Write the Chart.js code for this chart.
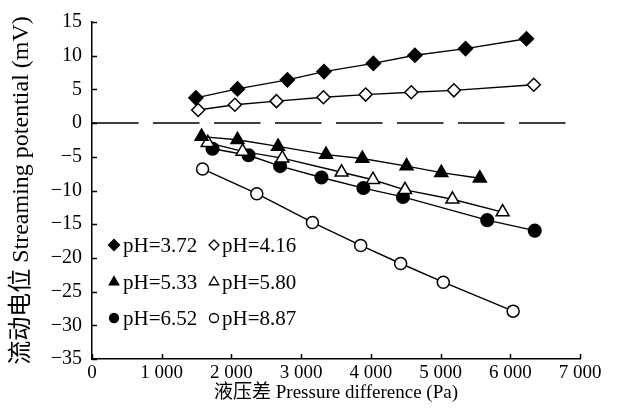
<!DOCTYPE html>
<html>
<head>
<meta charset="utf-8">
<script src="https://cdn.jsdelivr.net/npm/chart.js@4/dist/chart.umd.min.js"></script>
<style>
  html, body { margin: 0; padding: 0; background: #fff; }
  #wrap { width: 623px; height: 419px; }
</style>
</head>
<body>
<div id="wrap"><canvas id="myChart" width="623" height="419"></canvas></div>
<script>
// readings from the figure: pressure difference (Pa) vs streaming potential (mV)
const labels = ["pH=3.72", "pH=4.16", "pH=5.33", "pH=5.80", "pH=6.52", "pH=8.87"];

const x372 = [1490, 2087, 2803, 3328, 4036, 4632, 5358, 6232];
const y372 = [3.75, 5.07, 6.42, 7.64, 8.86, 10.07, 11.05, 12.51];

const x416 = [1523, 2049, 2646, 3320, 3926, 4580, 5191, 6337];
const y416 = [1.94, 2.73, 3.26, 3.84, 4.23, 4.57, 4.86, 5.69];

const x533 = [1572, 2087, 2669, 3357, 3878, 4513, 5010, 5563];
const y533 = [-2.0, -2.48, -3.46, -4.67, -5.26, -6.38, -7.35, -8.18];

const x580 = [1660, 2160, 2730, 3580, 4030, 4490, 5170, 5890];
const y580 = [-2.9, -4.2, -5.2, -7.3, -8.4, -9.9, -11.3, -13.2];

const x652 = [1729, 2245, 2698, 3291, 3893, 4460, 5669, 6351];
const y652 = [-3.8, -4.77, -6.38, -8.07, -9.64, -10.95, -14.4, -15.96];

const x887 = [1586, 2364, 3162, 3854, 4427, 5039, 6041];
const y887 = [-6.8, -10.47, -14.74, -18.15, -20.83, -23.6, -27.9];

const xTicks = [0, 1000, 2000, 3000, 4000, 5000, 6000, 7000];
const yTicks = [15, 10, 5, 0, -5, -10, -15, -20, -25, -30, -35];

const xTitle = "液压差 Pressure difference (Pa)";
const yTitle = "流动电位 Streaming potential (mV)";

const FONT = "'Liberation Serif', 'Noto Sans CJK SC', serif";

let pts = (xs, ys) => xs.map((x, i) => ({ x: x, y: ys[i] }));

// marker look for each series, same order as labels
const styles = [
  { pointStyle: "rectRot", radius: 7, fill: "#000" },
  { pointStyle: "rectRot", radius: 6.5, fill: "#fff" },
  { pointStyle: "triangle", radius: 7.5, fill: "#000" },
  { pointStyle: "triangle", radius: 7.5, fill: "#fff" },
  { pointStyle: "circle", radius: 6.3, fill: "#000" },
  { pointStyle: "circle", radius: 6, fill: "#fff" },
];

const seriesData = [
  pts(x372, y372), pts(x416, y416), pts(x533, y533),
  pts(x580, y580), pts(x652, y652), pts(x887, y887),
];

let datasets = seriesData.map((d, i) => ({
  label: labels[i],
  data: d,
  showLine: true,
  borderColor: "#000",
  borderWidth: 1.4,
  pointStyle: styles[i].pointStyle,
  pointRadius: styles[i].radius,
  pointHoverRadius: styles[i].radius,
  pointBackgroundColor: styles[i].fill,
  pointBorderColor: "#000",
  pointBorderWidth: 1.5,
}));

// dashed zero line
datasets.push({
  label: "zero",
  data: [{ x: 0, y: 0 }, { x: 7000, y: 0 }],
  showLine: true,
  borderColor: "#000",
  borderWidth: 1.5,
  borderDash: [46.5, 14.5],
  pointRadius: 0,
});

// small legend inside the plot, 3 rows x 2 columns
const legendPos = [
  { mx: 114, tx: 123, y: 245 }, { mx: 214, tx: 222, y: 245 },
  { mx: 114, tx: 123, y: 282 }, { mx: 214, tx: 222, y: 282 },
  { mx: 114, tx: 123, y: 318 }, { mx: 214, tx: 222, y: 318 },
];
const legendRadius = [5.5, 5, 5.5, 5.5, 4.5, 4.5];

let insideLegend = {
  id: "insideLegend",
  afterDraw: (chart) => {
    let ctx = chart.ctx;
    ctx.save();
    for (let i = 0; i < labels.length; i++) {
      let p = legendPos[i];
      ctx.fillStyle = styles[i].fill;
      ctx.strokeStyle = "#000";
      ctx.lineWidth = 1.3;
      Chart.helpers.drawPoint(ctx, {
        pointStyle: styles[i].pointStyle,
        radius: legendRadius[i],
        borderWidth: 1.3,
        rotation: 0,
      }, p.mx, p.y);
      ctx.fillStyle = "#000";
      ctx.font = "21px " + FONT;
      ctx.textBaseline = "middle";
      ctx.textAlign = "left";
      ctx.fillText(labels[i], p.tx, p.y + 1);
    }
    ctx.restore();
  },
};

// tick marks pointing into the plot
let innerTicks = {
  id: "innerTicks",
  afterDraw: (chart) => {
    let ctx = chart.ctx;
    let xs = chart.scales.x;
    let ys = chart.scales.y;
    let area = chart.chartArea;
    ctx.save();
    ctx.strokeStyle = "#000";
    ctx.lineWidth = 1.5;
    ctx.beginPath();
    for (let v of xTicks) {
      let px = Math.round(xs.getPixelForValue(v)) + 0.5;
      ctx.moveTo(px, area.bottom);
      ctx.lineTo(px, area.bottom - 5);
    }
    for (let v of yTicks) {
      let py = Math.round(ys.getPixelForValue(v)) + 0.5;
      ctx.moveTo(area.left, py);
      ctx.lineTo(area.left + 5, py);
    }
    ctx.stroke();
    ctx.restore();
  },
};

const config = {
  type: "scatter",
  data: { datasets: datasets },
  plugins: [innerTicks, insideLegend],
  options: {
    responsive: false,
    animation: false,
    events: [],
    layout: { padding: { left: 0, right: 43, top: 16, bottom: 0 } },
    plugins: {
      legend: { display: false },
      tooltip: { enabled: false },
    },
    scales: {
      x: {
        type: "linear",
        min: 0,
        max: 7000,
        afterFit: (scale) => { scale.height = 60; },
        afterBuildTicks: (scale) => { scale.ticks = xTicks.map((v) => ({ value: v })); },
        grid: { display: false, drawTicks: false },
        border: { display: true, color: "#000", width: 1.5 },
        ticks: {
          color: "#000",
          font: { family: FONT, size: 19 },
          padding: 3,
          maxRotation: 0,
          callback: (v) => (v === 0 ? "0" : (v / 1000) + " 000"),
        },
        title: {
          display: true,
          text: xTitle,
          color: "#000",
          font: { family: FONT, size: 19 },
          padding: { top: 0, bottom: 15 },
        },
      },
      y: {
        type: "linear",
        min: -35,
        max: 15,
        afterFit: (scale) => { scale.width = 92; },
        afterBuildTicks: (scale) => { scale.ticks = yTicks.map((v) => ({ value: v })); },
        grid: { display: false, drawTicks: false },
        border: { display: true, color: "#000", width: 1.5 },
        ticks: {
          color: "#000",
          font: { family: FONT, size: 20 },
          padding: 10,
          callback: (v) => (v < 0 ? "\u2212" + Math.abs(v) : String(v)),
        },
        title: {
          display: true,
          text: yTitle,
          color: "#000",
          font: { family: FONT, size: 24 },
          padding: { top: 7, bottom: 0 },
        },
      },
    },
  },
};

const myChart = new Chart(document.getElementById("myChart"), config);
</script>
</body>
</html>
